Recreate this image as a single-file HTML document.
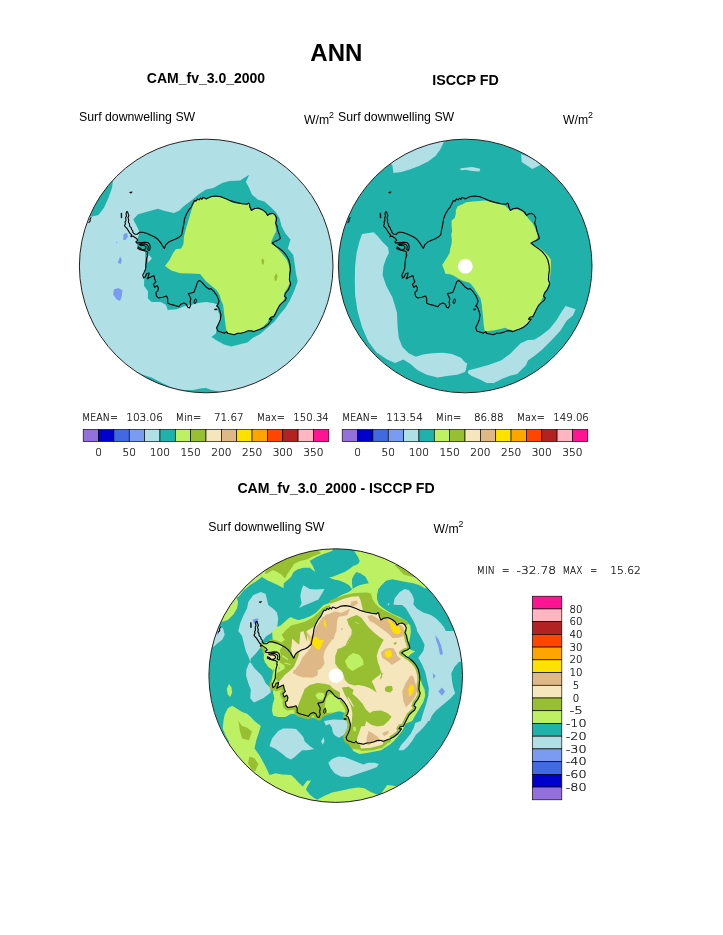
<!DOCTYPE html>
<html><head><meta charset="utf-8"><title>ANN Surf downwelling SW</title>
<style>
html,body{margin:0;padding:0;background:#fff;}
svg{display:block;}
text{font-family:"Liberation Sans",sans-serif;fill:#000;}
text.thin{font-family:"DejaVu Sans Light","DejaVu Sans","Liberation Sans",sans-serif;font-weight:200;fill:#000;stroke:#000;stroke-width:0.22px;}
</style></head><body>
<svg width="723" height="935" viewBox="0 0 723 935">
<rect width="723" height="935" fill="#fff"/>
<clipPath id="clip1"><circle cx="206.2" cy="266.0" r="126.8"/></clipPath><g clip-path="url(#clip1)"><circle cx="206.2" cy="266.0" r="126.8" fill="#B0E0E6"/>
<path d="M133.2,219.6 138.0,214.2 147.9,211.5 157.8,208.8 165.9,211.2 174.0,213.0 179.4,210.6 183.9,206.1 191.1,200.7 198.3,194.4 206.0,189.6 213.2,188.1 222.2,183.1 229.4,181.0 240.2,180.6 244.7,177.4 249.2,174.7 245.9,181.9 249.2,188.1 251.9,194.4 258.1,199.8 264.4,201.6 270.7,207.0 276.1,212.4 279.7,218.7 281.5,225.9 285.1,233.1 290.5,239.4 287.8,248.4 293.2,254.7 295.0,266.0 295.9,273.2 297.7,281.3 294.1,291.2 289.6,301.1 285.1,308.3 279.7,314.5 274.3,321.7 267.1,328.0 259.9,334.3 252.7,337.9 247.4,342.4 240.2,344.2 231.2,346.4 224.0,344.6 216.8,340.6 211.4,337.0 215.9,333.4 216.8,328.0 218.2,323.5 220.0,319.9 219.5,314.5 217.1,309.2 217.7,304.7 214.1,303.2 206.0,302.0 198.3,302.9 191.1,304.7 183.9,306.5 176.7,309.2 167.7,310.1 165.9,304.7 160.5,302.0 151.5,302.0 147.9,298.4 147.9,291.2 144.0,285.8 144.3,276.8 145.2,266.0 145.2,260.1 145.2,252.0 137.5,247.5 136.8,240.3 138.9,234.9 138.9,230.4 136.2,225.0Z" fill="#20B2AA" />
<path d="M147.6,253.2 151.9,258.6 147.9,262.8Z" fill="#B0E0E6" />
<path d="M206.0,199.8 211.4,197.1 218.6,196.8 225.8,198.9 233.0,202.9 242.0,204.3 248.8,204.0 251.0,210.6 255.4,208.8 261.7,209.4 268.0,215.1 273.4,213.7 275.2,216.9 275.2,224.1 276.1,231.3 273.4,236.7 271.1,242.1 275.2,245.7 281.5,252.9 286.9,260.1 289.1,266.0 289.6,269.6 289.1,276.8 289.6,283.1 287.8,287.6 284.2,293.0 285.1,296.6 283.3,301.1 279.7,305.6 277.0,310.1 273.4,315.4 268.9,318.1 268.0,321.7 263.5,326.2 258.1,329.8 252.7,331.6 247.4,331.6 242.0,332.9 237.5,333.4 233.0,334.3 228.5,334.3 226.7,331.6 225.8,327.1 224.9,319.9 224.0,312.7 223.1,304.7 221.3,301.1 219.5,294.8 216.8,290.3 211.4,285.8 206.0,281.3 200.1,274.1 191.1,273.6 180.3,273.2 171.3,270.5 165.0,266.0 169.5,260.1 173.1,252.9 175.8,249.3 181.2,248.4 183.5,243.9 183.9,236.7 185.7,229.5 188.4,220.5 191.1,211.5 192.9,205.2 194.7,201.6 200.1,198.9 206.0,198.0Z" fill="#BEF064" />
<path d="M112.9,181.0 112.0,188.1 108.4,198.0 103.9,207.9 98.5,215.1 92.2,216.4 83.2,216.4 94.0,181.0Z" fill="#20B2AA" />
<path d="M137.1,372.1 140.7,373.9 151.5,377.5 162.3,382.9 173.1,388.3 183.9,390.1 192.9,390.1 201.9,388.3 206.0,387.9 211.4,390.1 216.8,391.0 224.0,392.2 231.2,394.0 231.2,402.7 137.1,402.7Z" fill="#20B2AA" />
<path d="M123.6,234.0 127.2,233.1 127.8,236.7 125.4,240.3 123.1,239.4Z" fill="#7B9BF2" />
<path d="M120.1,256.5 121.9,260.1 120.6,264.0 117.7,262.8Z" fill="#7B9BF2" />
<path d="M115.9,241.7 117.4,242.4 116.5,243.3Z" fill="#7B9BF2" />
<path d="M113.8,289.4 118.3,287.9 122.4,290.3 121.9,295.7 120.1,301.1 116.5,299.3 113.2,294.8Z" fill="#7B9BF2" />
<path d="M261.4,260.1 262.8,257.9 264.3,261.0 263.5,264.7 261.9,264.0Z" fill="#98BE32" />
<path d="M274.3,276.8 276.1,273.2 277.6,275.9 276.7,280.4 274.9,281.1Z" fill="#98BE32" /><g transform="translate(206.2,266.0)" fill="none" stroke="#000" stroke-width="1.10" stroke-linejoin="round"><path d="M-0.2,-67.1 2.3,-68.2 5.4,-69.5 9.8,-70.0 14.7,-69.2 19.7,-67.3 24.7,-65.1 29.7,-63.6 35.9,-62.3 40.9,-61.7 42.1,-63.0 43.1,-62.3 43.6,-59.2 45.2,-55.5 47.7,-57.3 52.1,-58.0 56.4,-56.1 59.6,-53.6 61.4,-50.5 63.3,-52.1 66.4,-52.6 68.9,-51.1 70.5,-48.0 70.1,-44.9 69.3,-43.0 70.8,-39.9 71.8,-34.9 73.2,-31.2 74.2,-27.5 71.4,-25.6 68.3,-24.4 65.8,-22.7 67.6,-21.5 70.1,-19.4 73.2,-17.5 77.0,-14.4 80.1,-10.7 80.7,-9.8 82.6,-6.0 83.8,-1.0 84.2,3.9 83.5,8.9 83.2,13.9 84.5,17.6 83.8,20.1 82.0,23.9 79.5,27.0 78.2,30.1 80.1,31.9 78.9,34.4 75.8,36.9 73.3,39.4 71.4,43.1 69.5,46.9 67.7,50.6 64.6,51.2 63.3,53.1 65.8,53.1 64.6,55.0 62.1,58.1 58.3,61.2 54.6,63.1 50.9,64.3 47.7,65.6 45.3,64.9 42.1,64.7 38.4,66.2 34.7,67.2 30.9,67.4 27.8,68.7 24.7,68.0 21.6,67.4 20.4,65.6 18.5,67.2 15.4,66.2 11.6,64.9 10.4,61.8 12.3,58.1 14.1,53.7 14.8,48.8 13.5,44.4 12.3,41.3 10.4,40.0 11.6,38.8 12.9,35.1 11.0,30.1 7.9,25.7 4.8,22.6 3.2,23.2 -0.5,20.7 -4.2,16.4 -6.7,14.5 -8.6,15.8 -10.4,21.4 -12.3,26.3 -14.8,27.0 -17.9,27.6 -15.4,32.6 -16.1,36.3 -15.4,38.8 -16.7,41.9 -18.5,41.3 -19.8,38.2 -22.3,36.9 -25.4,38.2 -27.3,40.7 -31.6,39.4 -36.0,38.2 -38.5,36.9 -38.5,32.6 -39.7,30.1 -43.4,31.3 -47.8,31.9 -49.7,30.1 -50.3,26.3 -48.4,25.1 -47.8,22.0 -49.0,19.5 -51.5,21.4 -52.8,18.3 -50.3,15.8 -51.5,13.3 -52.2,9.5 -54.0,10.2 -56.5,11.4 -59.0,12.7 -57.8,10.2 -57.1,7.0 -59.6,7.7 -60.9,10.8 -62.7,12.0 -63.4,8.9 -62.1,6.4 -60.5,2.7 -60.2,-2.3 -59.6,-7.3 -58.4,-11.0 -59.1,-11.3 -58.5,-13.8 -60.3,-15.0 -63.4,-15.6 -65.9,-16.3 -68.4,-17.5 -68.0,-19.0 -66.5,-18.1 -64.7,-16.5 -62.2,-16.3 -60.3,-17.5 -60.3,-19.4 -62.2,-20.6 -65.3,-20.6 -67.2,-21.5 -65.3,-21.9 -61.6,-22.2 -59.1,-21.2 -57.8,-19.4 -58.5,-16.3 -56.6,-15.6 -56.0,-18.8 -56.6,-21.9 -58.5,-23.5 -61.6,-23.7 -66.5,-23.1 -69.7,-23.1 -70.3,-24.4 -68.4,-25.6 -69.7,-27.5 -71.5,-28.7 -73.4,-30.0 -75.3,-29.3 -74.6,-31.2 -76.5,-33.1 -78.4,-36.2 -79.7,-38.1 -80.7,-38.9 -81.7,-40.5 -80.7,-42.2 -81.2,-43.9 -80.2,-45.5 -80.5,-48.4 -79.7,-50.1 -80.2,-52.1 -79.5,-54.4 -78.5,-53.9 -78.0,-52.1 -77.3,-50.4 -78.2,-48.4 -77.5,-46.1 -77.8,-43.7 -76.8,-42.2 -76.5,-39.7 -75.0,-38.4 -74.6,-36.4 -73.5,-35.4 -73.4,-33.7 -71.5,-31.8 -69.0,-31.8 -66.5,-33.7 -63.4,-33.7 -59.1,-32.5 -54.7,-30.6 -51.0,-28.7 -47.9,-26.2 -45.4,-23.1 -43.5,-20.0 -41.9,-17.5 -40.4,-21.2 -37.9,-23.7 -34.2,-25.6 -30.4,-26.9 -27.3,-28.7 -24.5,-31.2 -23.6,-36.2 -22.4,-41.8 -21.7,-46.8 -19.9,-51.7 -17.4,-56.1 -14.9,-59.2 -13.0,-63.0 -11.8,-65.4 -9.9,-65.1 -8.7,-67.1 -7.0,-66.1 -5.6,-67.9 -4.3,-66.7 -3.1,-68.6 -0.2,-67.6Z"/><path d="M-76.5,-73.8 -74.0,-74.2 -75.0,-72.8 -76.5,-73.3Z" fill="#000" stroke-width="0.5"/><path d="M-85.2,-53.0 -84.5,-53.0 -84.3,-48.0 -85.1,-48.0Z" fill="#000" stroke-width="0.5"/><path d="M-11.7,33.8 -10.2,32.8 -9.8,35.3 -11.1,37.8 -12.2,36.9Z" fill="none" stroke-width="0.9"/><path d="M8.2,43.1 10.5,42.8 10.5,44.0 8.5,44.0Z" fill="#000" stroke-width="0.5"/><path d="M-115.0,-48.8 L-116.2,-46.5 L-116.0,-45.0 L-117.6,-43.2"/></g></g><circle cx="206.2" cy="266.0" r="126.8" fill="none" stroke="#222" stroke-width="1"/>
<clipPath id="clip2"><circle cx="465.2" cy="266.0" r="126.8"/></clipPath><g clip-path="url(#clip2)"><circle cx="465.2" cy="266.0" r="126.8" fill="#20B2AA"/>
<path d="M388.9,161.2 446.5,136.0 442.9,144.1 440.2,149.5 435.7,155.8 428.5,161.2 419.5,165.7 410.5,169.3 401.5,172.0 393.4,172.9 392.5,165.7Z" fill="#B0E0E6" />
<path d="M521.1,154.0 544.1,163.0 532.4,168.9 521.6,162.1Z" fill="#B0E0E6" />
<path d="M460.0,168.4 465.0,167.8 472.2,167.1 480.3,168.7 479.4,171.6 472.2,171.1 465.0,169.8 460.9,170.2Z" fill="#B0E0E6" />
<path d="M362.0,234.0 373.7,232.2 377.3,235.8 382.6,242.1 388.0,247.5 388.9,252.9 386.2,258.3 383.5,266.0 382.6,275.0 386.2,285.8 392.5,297.5 397.0,312.7 397.6,327.1 398.8,337.9 402.4,346.9 408.7,353.2 415.9,356.8 423.1,354.5 432.1,353.2 442.9,352.7 451.9,354.1 460.9,357.7 465.0,362.2 467.2,363.6 465.9,369.4 465.0,372.1 457.3,374.8 446.5,376.0 437.5,377.5 426.7,374.8 417.7,370.3 410.5,364.0 403.3,359.5 395.2,363.1 387.1,359.5 376.4,352.3 368.3,341.5 362.0,327.1 357.5,311.0 355.1,294.8 354.8,280.4 355.1,266.0 356.6,252.9 359.3,242.1Z" fill="#B0E0E6" />
<path d="M468.6,370.3 475.8,368.5 488.4,364.9 501.0,360.4 510.0,354.1 520.7,343.3 527.9,340.1 534.2,339.7 540.5,336.1 549.5,328.9 556.7,319.9 562.1,311.0 565.7,305.9 575.6,309.2 572.9,315.4 566.6,320.8 560.3,330.7 551.3,340.6 542.3,349.6 533.3,356.8 527.9,360.4 526.1,364.9 517.1,373.9 510.0,375.7 502.8,378.4 493.8,382.9 486.6,382.9 479.4,379.3 471.3,375.7 467.7,373.0Z" fill="#B0E0E6" />
<path d="M465.0,202.4 472.5,201.4 479.9,200.9 484.9,200.6 489.9,201.8 497.4,203.7 504.8,205.5 509.8,209.9 517.3,209.3 522.3,211.8 526.0,215.5 529.7,219.9 532.8,223.6 534.7,227.3 536.6,232.3 537.8,237.3 534.7,241.0 531.6,242.9 534.7,246.0 539.7,247.9 544.7,252.2 548.4,256.0 550.9,259.7 550.9,265.9 550.3,275.0 550.3,274.9 549.7,277.4 549.4,283.0 547.8,286.7 545.9,289.9 544.1,292.3 543.4,296.1 542.2,298.6 540.3,302.9 537.2,307.3 534.7,312.3 532.2,316.6 529.1,321.6 524.8,326.0 519.8,328.4 513.6,330.9 509.8,329.7 504.9,327.8 502.4,328.4 494.9,330.3 488.7,330.9 484.7,330.9 483.7,324.7 483.1,317.2 482.4,311.0 481.8,304.8 480.6,298.6 477.5,293.6 473.7,287.4 470.0,283.0 466.0,281.8 462.2,280.5 459.7,279.3 456.6,277.4 453.5,275.5 449.8,274.3 445.4,273.7 444.2,269.9 442.9,266.8 442.3,264.3 442.8,264.0 444.7,260.9 447.2,257.2 449.7,252.8 450.3,248.5 451.6,243.5 451.9,239.8 451.2,234.8 452.2,231.1 451.6,226.1 451.6,220.5 454.7,218.0 455.7,214.3 455.9,209.9 457.8,206.2 460.9,204.9 465.0,203.0Z" fill="#BEF064" />
<circle cx="465.3" cy="266.2" r="7.4" fill="#fff"/><g transform="translate(465.2,266.0)" fill="none" stroke="#000" stroke-width="1.10" stroke-linejoin="round"><path d="M-0.2,-67.1 2.3,-68.2 5.4,-69.5 9.8,-70.0 14.7,-69.2 19.7,-67.3 24.7,-65.1 29.7,-63.6 35.9,-62.3 40.9,-61.7 42.1,-63.0 43.1,-62.3 43.6,-59.2 45.2,-55.5 47.7,-57.3 52.1,-58.0 56.4,-56.1 59.6,-53.6 61.4,-50.5 63.3,-52.1 66.4,-52.6 68.9,-51.1 70.5,-48.0 70.1,-44.9 69.3,-43.0 70.8,-39.9 71.8,-34.9 73.2,-31.2 74.2,-27.5 71.4,-25.6 68.3,-24.4 65.8,-22.7 67.6,-21.5 70.1,-19.4 73.2,-17.5 77.0,-14.4 80.1,-10.7 80.7,-9.8 82.6,-6.0 83.8,-1.0 84.2,3.9 83.5,8.9 83.2,13.9 84.5,17.6 83.8,20.1 82.0,23.9 79.5,27.0 78.2,30.1 80.1,31.9 78.9,34.4 75.8,36.9 73.3,39.4 71.4,43.1 69.5,46.9 67.7,50.6 64.6,51.2 63.3,53.1 65.8,53.1 64.6,55.0 62.1,58.1 58.3,61.2 54.6,63.1 50.9,64.3 47.7,65.6 45.3,64.9 42.1,64.7 38.4,66.2 34.7,67.2 30.9,67.4 27.8,68.7 24.7,68.0 21.6,67.4 20.4,65.6 18.5,67.2 15.4,66.2 11.6,64.9 10.4,61.8 12.3,58.1 14.1,53.7 14.8,48.8 13.5,44.4 12.3,41.3 10.4,40.0 11.6,38.8 12.9,35.1 11.0,30.1 7.9,25.7 4.8,22.6 3.2,23.2 -0.5,20.7 -4.2,16.4 -6.7,14.5 -8.6,15.8 -10.4,21.4 -12.3,26.3 -14.8,27.0 -17.9,27.6 -15.4,32.6 -16.1,36.3 -15.4,38.8 -16.7,41.9 -18.5,41.3 -19.8,38.2 -22.3,36.9 -25.4,38.2 -27.3,40.7 -31.6,39.4 -36.0,38.2 -38.5,36.9 -38.5,32.6 -39.7,30.1 -43.4,31.3 -47.8,31.9 -49.7,30.1 -50.3,26.3 -48.4,25.1 -47.8,22.0 -49.0,19.5 -51.5,21.4 -52.8,18.3 -50.3,15.8 -51.5,13.3 -52.2,9.5 -54.0,10.2 -56.5,11.4 -59.0,12.7 -57.8,10.2 -57.1,7.0 -59.6,7.7 -60.9,10.8 -62.7,12.0 -63.4,8.9 -62.1,6.4 -60.5,2.7 -60.2,-2.3 -59.6,-7.3 -58.4,-11.0 -59.1,-11.3 -58.5,-13.8 -60.3,-15.0 -63.4,-15.6 -65.9,-16.3 -68.4,-17.5 -68.0,-19.0 -66.5,-18.1 -64.7,-16.5 -62.2,-16.3 -60.3,-17.5 -60.3,-19.4 -62.2,-20.6 -65.3,-20.6 -67.2,-21.5 -65.3,-21.9 -61.6,-22.2 -59.1,-21.2 -57.8,-19.4 -58.5,-16.3 -56.6,-15.6 -56.0,-18.8 -56.6,-21.9 -58.5,-23.5 -61.6,-23.7 -66.5,-23.1 -69.7,-23.1 -70.3,-24.4 -68.4,-25.6 -69.7,-27.5 -71.5,-28.7 -73.4,-30.0 -75.3,-29.3 -74.6,-31.2 -76.5,-33.1 -78.4,-36.2 -79.7,-38.1 -80.7,-38.9 -81.7,-40.5 -80.7,-42.2 -81.2,-43.9 -80.2,-45.5 -80.5,-48.4 -79.7,-50.1 -80.2,-52.1 -79.5,-54.4 -78.5,-53.9 -78.0,-52.1 -77.3,-50.4 -78.2,-48.4 -77.5,-46.1 -77.8,-43.7 -76.8,-42.2 -76.5,-39.7 -75.0,-38.4 -74.6,-36.4 -73.5,-35.4 -73.4,-33.7 -71.5,-31.8 -69.0,-31.8 -66.5,-33.7 -63.4,-33.7 -59.1,-32.5 -54.7,-30.6 -51.0,-28.7 -47.9,-26.2 -45.4,-23.1 -43.5,-20.0 -41.9,-17.5 -40.4,-21.2 -37.9,-23.7 -34.2,-25.6 -30.4,-26.9 -27.3,-28.7 -24.5,-31.2 -23.6,-36.2 -22.4,-41.8 -21.7,-46.8 -19.9,-51.7 -17.4,-56.1 -14.9,-59.2 -13.0,-63.0 -11.8,-65.4 -9.9,-65.1 -8.7,-67.1 -7.0,-66.1 -5.6,-67.9 -4.3,-66.7 -3.1,-68.6 -0.2,-67.6Z"/><path d="M-76.5,-73.8 -74.0,-74.2 -75.0,-72.8 -76.5,-73.3Z" fill="#000" stroke-width="0.5"/><path d="M-85.2,-53.0 -84.5,-53.0 -84.3,-48.0 -85.1,-48.0Z" fill="#000" stroke-width="0.5"/><path d="M-11.7,33.8 -10.2,32.8 -9.8,35.3 -11.1,37.8 -12.2,36.9Z" fill="none" stroke-width="0.9"/><path d="M8.2,43.1 10.5,42.8 10.5,44.0 8.5,44.0Z" fill="#000" stroke-width="0.5"/><path d="M-115.0,-48.8 L-116.2,-46.5 L-116.0,-45.0 L-117.6,-43.2"/></g></g><circle cx="465.2" cy="266.0" r="126.8" fill="none" stroke="#222" stroke-width="1"/>
<clipPath id="clip3"><circle cx="335.7" cy="675.6" r="126.8"/></clipPath><g clip-path="url(#clip3)"><circle cx="335.7" cy="675.6" r="126.8" fill="#20B2AA"/>
<path d="M221.5,621.9 227.8,620.0 233.4,614.4 237.1,608.2 238.1,602.0 236.5,597.6 238.3,597.0 243.3,590.8 250.8,584.6 255.8,581.5 262.0,577.1 250.8,565.9 219.7,597.6 211.0,621.9Z" fill="#BEF064" />
<path d="M262.0,577.1 268.2,580.8 275.7,583.9 283.8,588.3 291.0,583.9 315.9,578.3 329.0,577.7 333.3,579.6 339.5,580.8 344.5,582.7 348.9,585.2 352.0,589.5 353.2,615.7 381.0,615.7 381.0,606.4 378.8,604.5 376.9,599.5 376.9,594.5 378.1,589.5 381.0,585.8 386.0,580.8 392.2,579.3 398.4,580.6 405.9,582.1 413.4,583.3 419.6,585.2 424.6,588.3 433.3,588.3 405.9,553.4 381.0,541.0 335.8,537.3 291.0,541.0 275.7,547.2 250.8,565.9Z" fill="#BEF064" />
<path d="M352.0,589.5 355.7,587.1 359.5,585.2 364.4,583.9 368.8,583.3 373.2,587.1 378.1,589.5 376.9,594.5 376.9,599.5 378.8,604.5 381.0,606.4 386.0,610.1 392.2,613.8 399.7,616.9 405.9,620.7 410.3,625.6 410.9,631.0 410.3,636.0 409.0,642.2 407.8,647.2 410.9,649.7 415.2,651.5 410.9,654.0 407.8,657.1 410.9,660.3 414.6,664.0 418.3,669.6 420.2,678.3 422.1,684.5 424.6,689.5 425.2,695.7 423.3,702.0 419.6,708.2 415.9,714.4 412.1,721.0 405.9,723.5 402.2,731.0 397.2,737.2 393.4,741.5 389.7,744.7 384.7,747.8 381.0,750.3 368.2,752.7 359.5,754.0 353.2,750.9 350.8,745.9 349.5,739.7 347.6,739.7 349.5,731.0 349.5,721.0 348.3,716.9 345.8,713.2 338.3,710.7 332.1,713.2 323.4,715.6 315.9,718.1 307.2,716.9 298.5,714.4 291.0,713.8 285.6,716.9 278.2,716.9 273.2,715.6 272.0,710.7 272.6,704.4 274.4,698.2 273.2,693.2 272.6,688.3 273.2,680.8 274.4,674.6 272.0,669.6 268.2,667.1 265.7,662.1 264.5,655.9 265.7,650.9 268.8,647.8 272.0,645.9 272.6,638.5 272.0,631.0 274.4,628.1 280.7,625.6 288.1,618.8 291.0,616.9 293.5,618.2 298.5,620.0 304.7,618.2 310.9,615.7 315.9,612.6 319.6,608.8 323.4,605.1 328.3,603.2 333.3,600.1 338.3,596.4 343.3,593.9 348.3,592.0Z" fill="#BEF064" />
<path d="M223.4,721.0 224.7,714.4 227.8,708.2 232.1,705.7 237.1,708.8 242.1,711.9 247.1,713.8 250.8,716.9 254.5,721.0 260.8,726.0 258.9,732.2 256.4,739.7 254.5,748.4 258.9,754.6 263.2,762.1 267.0,769.5 269.5,775.1 275.7,773.3 281.9,774.5 291.0,775.1 294.7,778.3 298.5,782.6 302.8,786.4 307.2,780.8 310.9,780.5 307.8,785.7 305.9,789.5 309.7,794.4 313.4,797.6 317.1,799.7 324.6,795.7 332.1,792.6 340.8,790.7 349.5,788.8 358.2,787.6 364.4,788.2 370.7,792.0 376.9,794.4 381.0,793.8 387.2,785.1 392.2,785.5 397.8,787.0 393.4,805.6 340.8,820.6 291.0,813.1 250.8,798.2 225.9,758.3 229.0,741.5 225.3,734.7 222.8,728.5 223.4,721.0Z" fill="#BEF064" />
<path d="M229.0,683.9 231.5,687.6 232.1,692.6 230.3,697.0 227.8,694.5 226.8,688.9Z" fill="#BEF064" />
<path d="M291.0,577.1 293.5,572.1 297.2,569.6 303.4,567.8 309.7,567.8 315.3,572.1 312.8,565.9 309.7,560.9 315.9,557.2 323.4,554.1 332.1,551.0 334.6,546.0 354.5,546.0 354.5,551.6 358.2,557.2 359.7,560.9 358.2,564.0 353.2,565.9 349.5,569.0 344.5,572.1 338.3,574.6 333.3,576.5 329.0,577.7 333.3,579.6 339.5,580.8 344.5,582.7 348.9,585.2 352.0,589.5 348.3,592.0 343.3,593.9 338.3,596.4 333.3,600.1 328.3,603.2 323.4,605.1 319.6,608.8 315.9,612.6 310.9,615.7 304.7,618.2 298.5,620.0 293.5,618.2 291.0,616.9 283.5,615.7 283.5,588.3 283.8,583.3Z" fill="#20B2AA" />
<path d="M356.4,571.9 360.7,573.4 365.7,577.1 368.8,583.3 364.4,583.9 359.5,585.2 355.7,587.1 352.6,588.9 352.0,583.3 352.0,579.0 353.9,575.2Z" fill="#20B2AA" />
<path d="M248.3,602.0 253.3,595.1 260.8,592.0 265.7,593.9 267.0,599.5 268.2,605.1 273.2,608.8 276.9,612.6 278.2,618.8 277.2,626.9 270.7,633.5 266.1,636.2 262.6,641.0 260.8,647.2 255.8,653.4 250.8,658.4 250.2,662.1 254.5,668.3 262.0,675.8 265.7,683.3 270.7,688.3 270.7,692.6 263.2,698.2 253.9,702.6 250.2,698.2 250.8,689.5 248.3,683.3 246.1,675.8 246.4,669.6 248.9,663.4 250.2,662.1 248.9,657.8 245.8,650.9 243.9,643.4 242.1,636.0 238.3,631.0 240.2,623.2 243.3,615.7 247.1,608.2Z" fill="#B0E0E6" />
<path d="M211.0,628.0 217.0,626.5 223.0,628.0 224.7,634.7 222.2,639.7 217.2,643.4 214.0,646.5 205.0,650.0 200.0,630.0Z" fill="#B0E0E6" />
<path d="M303.4,585.2 309.7,588.9 315.9,589.5 324.6,588.9 322.1,593.3 318.4,599.5 309.7,603.2 303.4,605.7 299.1,608.0 301.6,603.2 300.3,595.8 301.6,589.5Z" fill="#B0E0E6" />
<path d="M393.4,604.5 394.7,598.3 399.7,592.0 404.7,588.9 409.0,590.2 412.1,594.5 414.0,599.5 413.4,604.5 417.1,608.8 423.3,612.6 430.8,615.1 435.8,618.2 440.8,623.2 444.5,628.1 445.7,631.0 455.7,631.0 458.2,638.5 460.7,648.4 468.1,655.9 468.1,659.6 458.8,662.1 454.4,667.1 451.3,673.3 452.0,680.8 453.2,687.0 455.1,693.2 450.7,698.2 443.2,704.4 435.8,710.7 432.0,715.6 429.5,721.0 428.3,721.0 424.6,726.0 420.8,730.3 415.9,734.7 412.1,740.9 407.8,746.5 403.4,750.3 398.4,750.3 400.9,745.3 405.9,739.7 410.9,733.4 414.0,727.2 415.2,722.9 420.8,721.0 423.9,710.7 426.4,703.2 428.3,695.7 428.9,688.3 427.1,680.8 425.2,672.1 422.1,664.6 418.3,657.8 423.3,650.9 424.6,644.7 420.8,637.2 417.1,631.0 416.5,628.1 414.0,621.9 409.6,614.4 405.9,608.2 402.2,605.1 396.6,605.1Z" fill="#B0E0E6" />
<path d="M387.5,603.9 389.5,603.0 388.7,605.7Z" fill="#B0E0E6" />
<path d="M269.5,745.9 272.0,738.4 278.2,731.0 283.2,728.5 291.0,728.5 296.0,729.1 299.7,732.8 303.4,737.2 304.7,741.5 309.7,745.9 314.0,749.0 307.2,750.3 302.2,750.3 298.5,753.4 294.7,757.1 291.0,759.6 286.9,757.7 281.9,753.4 275.7,749.0Z" fill="#B0E0E6" />
<path d="M324.0,721.0 325.9,725.4 329.6,724.1 332.1,727.8 332.7,732.2 334.6,735.3 338.9,737.8 343.3,735.3 347.0,731.0 348.9,726.0 348.5,721.0 344.5,720.0 333.3,719.6Z" fill="#B0E0E6" />
<path d="M323.4,737.2 324.6,740.9 322.7,744.7 321.2,741.5Z" fill="#B0E0E6" />
<path d="M328.3,762.7 332.1,759.0 338.3,756.5 344.5,757.1 350.8,759.6 357.0,762.1 363.2,764.6 368.2,762.7 374.4,762.7 378.8,763.9 376.9,767.1 370.7,769.5 363.2,772.0 355.7,774.5 348.3,777.0 340.8,776.4 334.6,773.3 330.8,768.3Z" fill="#B0E0E6" />
<path d="M252.7,619.4 258.3,618.2 257.6,623.8 253.9,623.8Z" fill="#7B9BF2" />
<path d="M435.3,635.0 438.5,639.2 441.2,645.7 443.0,654.2 440.0,654.7 438.5,647.2 436.0,639.7Z" fill="#7B9BF2" />
<path d="M432.7,673.3 435.8,675.8 433.3,678.9Z" fill="#7B9BF2" />
<path d="M442.0,687.6 445.1,691.4 442.0,695.7 438.3,691.4Z" fill="#7B9BF2" />
<path d="M216.8,632.3 218.9,630.5 218.6,634.1 216.8,635.0Z" fill="#7B9BF2" />
<path d="M265.3,573.9 268.0,573.0 272.5,570.3 276.1,571.2 281.5,574.8 285.1,578.4 286.9,574.8 290.5,569.4 294.1,564.0 299.5,561.3 306.7,559.5 313.9,555.9 321.1,553.2 313.9,546.0 265.3,565.8Z" fill="#98BE32" />
<path d="M394.7,565.3 399.7,570.3 403.4,574.4 410.9,576.5 418.3,578.3 400.9,563.4Z" fill="#98BE32" />
<path d="M238.3,721.0 242.1,726.0 247.1,727.8 252.0,731.6 248.9,740.3 242.1,738.4 240.2,732.2Z" fill="#98BE32" />
<path d="M249.5,756.5 254.5,758.3 258.3,763.9 255.1,771.4 251.4,768.9 248.1,763.3Z" fill="#98BE32" />
<path transform="translate(335.7,675.6)" d="M54.6,63.1 50.9,64.3 47.7,65.6 45.3,64.9 42.1,64.7 38.4,66.2 34.7,67.2 30.9,67.4 27.8,68.7 24.7,68.0 21.6,67.4 20.4,65.6 18.5,67.2 15.4,66.2 11.6,64.9 10.4,61.8 12.3,58.1 14.1,53.7 14.8,48.8 13.5,44.4 12.3,41.3 10.4,40.0 11.6,38.8 12.9,35.1 11.0,30.1 7.9,25.7 4.8,22.6 3.2,23.2 -0.5,20.7 -4.2,16.4 -6.7,14.5 -8.6,15.8 -10.4,21.4 -12.3,26.3 -14.8,27.0 -17.9,27.6 -15.4,32.6 -16.1,36.3 -15.4,38.8 -16.7,41.9 -18.5,41.3 -19.8,38.2 -22.3,36.9 -25.4,38.2 -27.3,40.7 -31.6,39.4 -36.0,38.2 -38.5,36.9 -38.5,32.6 -39.7,30.1 -43.4,31.3 -47.8,31.9 -49.7,30.1 -50.3,26.3 -48.4,25.1 -47.8,22.0 -49.0,19.5 -51.5,21.4 -52.8,18.3 -50.3,15.8 -51.5,13.3 -52.2,9.5 -54.0,10.2 -56.5,11.4 -59.0,12.7 -57.8,10.2 -57.1,7.0 -59.6,7.7 -60.9,10.8 -62.7,12.0 -63.4,8.9 -62.1,6.4 -60.5,2.7 -60.2,-2.3 -59.6,-7.3 -58.4,-11.0 -59.1,-11.3 -58.5,-13.8 -60.3,-15.0 -63.4,-15.6 -65.9,-16.3 -68.4,-17.5 -68.0,-19.0 -66.5,-18.1 -64.7,-16.5 -62.2,-16.3 -60.3,-17.5 -60.3,-19.4 -62.2,-20.6 -65.3,-20.6 -67.2,-21.5 -65.3,-21.9 -61.6,-22.2 -59.1,-21.2 -57.8,-19.4 -58.5,-16.3 -56.6,-15.6 -56.0,-18.8 -56.6,-21.9 -58.5,-23.5 -61.6,-23.7 -66.5,-23.1 -69.7,-23.1 -70.3,-24.4 -68.4,-25.6 -69.7,-27.5 -71.5,-28.7 -73.4,-30.0 -75.3,-29.3" fill="none" stroke="#98BE32" stroke-width="6" stroke-linejoin="round"/>
<path transform="translate(335.7,675.6)" d="M-66.5,-33.7 -63.4,-33.7 -59.1,-32.5 -54.7,-30.6 -51.0,-28.7 -47.9,-26.2 -45.4,-23.1 -43.5,-20.0 -41.9,-17.5 -40.4,-21.2 -37.9,-23.7 -34.2,-25.6 -30.4,-26.9 -27.3,-28.7 -24.5,-31.2 -23.6,-36.2 -22.4,-41.8 -21.7,-46.8 -19.9,-51.7 -17.4,-56.1 -14.9,-59.2 -13.0,-63.0 -11.8,-65.4 -9.9,-65.1 -8.7,-67.1 -7.0,-66.1 -5.6,-67.9 -4.3,-66.7 -3.1,-68.6 -0.2,-67.6 -0.2,-67.1 2.3,-68.2 5.4,-69.5 9.8,-70.0 14.7,-69.2 19.7,-67.3 24.7,-65.1 29.7,-63.6 35.9,-62.3 40.9,-61.7 42.1,-63.0 43.1,-62.3 43.6,-59.2 45.2,-55.5 47.7,-57.3 52.1,-58.0 56.4,-56.1 59.6,-53.6" fill="none" stroke="#98BE32" stroke-width="5" stroke-linejoin="round"/>
<path d="M330.0,600.6 337.5,597.5 344.9,595.0 354.9,593.1 367.3,592.5 371.1,593.7 372.3,598.7 375.4,603.7 379.8,608.0 386.0,611.2 393.5,614.9 399.7,618.0 404.7,619.9 408.4,623.6 405.9,626.1 403.4,623.0 399.7,622.6 397.2,624.9 393.5,621.1 388.5,618.0 383.5,618.0 379.8,619.9 377.9,614.3 376.7,612.4 371.1,613.7 364.9,612.4 346.2,606.2 330.0,609.9Z" fill="#98BE32" />
<path d="M281.7,634.8 286.1,629.9 291.1,625.5 298.5,623.6 304.8,621.8 312.2,618.0 319.7,611.2 324.7,607.4 329.7,605.6 340.0,600.6 340.0,607.4 334.6,606.8 324.7,609.9 319.7,618.0 314.7,627.4 312.2,637.3 309.8,643.5 306.0,648.5 299.8,651.0 296.1,653.5 292.9,657.2 289.8,651.0 284.9,645.4 281.7,642.3 284.9,639.8 283.0,637.3Z" fill="#98BE32" />
<path transform="translate(335.7,675.6)" d="M-0.2,-67.1 2.3,-68.2 5.4,-69.5 9.8,-70.0 14.7,-69.2 19.7,-67.3 24.7,-65.1 29.7,-63.6 35.9,-62.3 40.9,-61.7 42.1,-63.0 43.1,-62.3 43.6,-59.2 45.2,-55.5 47.7,-57.3 52.1,-58.0 56.4,-56.1 59.6,-53.6 61.4,-50.5 63.3,-52.1 66.4,-52.6 68.9,-51.1 70.5,-48.0 70.1,-44.9 69.3,-43.0 70.8,-39.9 71.8,-34.9 73.2,-31.2 74.2,-27.5 71.4,-25.6 68.3,-24.4 65.8,-22.7 67.6,-21.5 70.1,-19.4 73.2,-17.5 77.0,-14.4 80.1,-10.7 80.7,-9.8 82.6,-6.0 83.8,-1.0 84.2,3.9 83.5,8.9 83.2,13.9 84.5,17.6 83.8,20.1 82.0,23.9 79.5,27.0 78.2,30.1 80.1,31.9 78.9,34.4 75.8,36.9 73.3,39.4 71.4,43.1 69.5,46.9 67.7,50.6 64.6,51.2 63.3,53.1 65.8,53.1 64.6,55.0 62.1,58.1 58.3,61.2 54.6,63.1 50.9,64.3 47.7,65.6 45.3,64.9 42.1,64.7 38.4,66.2 34.7,67.2 30.9,67.4 27.8,68.7 24.7,68.0 21.6,67.4 20.4,65.6 18.5,67.2 15.4,66.2 11.6,64.9 10.4,61.8 12.3,58.1 14.1,53.7 14.8,48.8 13.5,44.4 12.3,41.3 10.4,40.0 11.6,38.8 12.9,35.1 11.0,30.1 7.9,25.7 4.8,22.6 3.2,23.2 -0.5,20.7 -4.2,16.4 -6.7,14.5 -8.6,15.8 -10.4,21.4 -12.3,26.3 -14.8,27.0 -17.9,27.6 -15.4,32.6 -16.1,36.3 -15.4,38.8 -16.7,41.9 -18.5,41.3 -19.8,38.2 -22.3,36.9 -25.4,38.2 -27.3,40.7 -31.6,39.4 -36.0,38.2 -38.5,36.9 -38.5,32.6 -39.7,30.1 -43.4,31.3 -47.8,31.9 -49.7,30.1 -50.3,26.3 -48.4,25.1 -47.8,22.0 -49.0,19.5 -51.5,21.4 -52.8,18.3 -50.3,15.8 -51.5,13.3 -52.2,9.5 -54.0,10.2 -56.5,11.4 -59.0,12.7 -57.8,10.2 -57.1,7.0 -59.6,7.7 -60.9,10.8 -62.7,12.0 -63.4,8.9 -62.1,6.4 -60.5,2.7 -60.2,-2.3 -59.6,-7.3 -58.4,-11.0 -59.1,-11.3 -58.5,-13.8 -60.3,-15.0 -63.4,-15.6 -65.9,-16.3 -68.4,-17.5 -68.0,-19.0 -66.5,-18.1 -64.7,-16.5 -62.2,-16.3 -60.3,-17.5 -60.3,-19.4 -62.2,-20.6 -65.3,-20.6 -67.2,-21.5 -65.3,-21.9 -61.6,-22.2 -59.1,-21.2 -57.8,-19.4 -58.5,-16.3 -56.6,-15.6 -56.0,-18.8 -56.6,-21.9 -58.5,-23.5 -61.6,-23.7 -66.5,-23.1 -69.7,-23.1 -70.3,-24.4 -68.4,-25.6 -69.7,-27.5 -71.5,-28.7 -73.4,-30.0 -75.3,-29.3 -66.5,-33.7 -63.4,-33.7 -59.1,-32.5 -54.7,-30.6 -51.0,-28.7 -47.9,-26.2 -45.4,-23.1 -43.5,-20.0 -41.9,-17.5 -40.4,-21.2 -37.9,-23.7 -34.2,-25.6 -30.4,-26.9 -27.3,-28.7 -24.5,-31.2 -23.6,-36.2 -22.4,-41.8 -21.7,-46.8 -19.9,-51.7 -17.4,-56.1 -14.9,-59.2 -13.0,-63.0 -11.8,-65.4 -9.9,-65.1 -8.7,-67.1 -7.0,-66.1 -5.6,-67.9 -4.3,-66.7 -3.1,-68.6 -0.2,-67.6Z" fill="#F5E6BE"/>
<clipPath id="cont3"><path transform="translate(335.7,675.6)" d="M-0.2,-67.1 2.3,-68.2 5.4,-69.5 9.8,-70.0 14.7,-69.2 19.7,-67.3 24.7,-65.1 29.7,-63.6 35.9,-62.3 40.9,-61.7 42.1,-63.0 43.1,-62.3 43.6,-59.2 45.2,-55.5 47.7,-57.3 52.1,-58.0 56.4,-56.1 59.6,-53.6 61.4,-50.5 63.3,-52.1 66.4,-52.6 68.9,-51.1 70.5,-48.0 70.1,-44.9 69.3,-43.0 70.8,-39.9 71.8,-34.9 73.2,-31.2 74.2,-27.5 71.4,-25.6 68.3,-24.4 65.8,-22.7 67.6,-21.5 70.1,-19.4 73.2,-17.5 77.0,-14.4 80.1,-10.7 80.7,-9.8 82.6,-6.0 83.8,-1.0 84.2,3.9 83.5,8.9 83.2,13.9 84.5,17.6 83.8,20.1 82.0,23.9 79.5,27.0 78.2,30.1 80.1,31.9 78.9,34.4 75.8,36.9 73.3,39.4 71.4,43.1 69.5,46.9 67.7,50.6 64.6,51.2 63.3,53.1 65.8,53.1 64.6,55.0 62.1,58.1 58.3,61.2 54.6,63.1 50.9,64.3 47.7,65.6 45.3,64.9 42.1,64.7 38.4,66.2 34.7,67.2 30.9,67.4 27.8,68.7 24.7,68.0 21.6,67.4 20.4,65.6 18.5,67.2 15.4,66.2 11.6,64.9 10.4,61.8 12.3,58.1 14.1,53.7 14.8,48.8 13.5,44.4 12.3,41.3 10.4,40.0 11.6,38.8 12.9,35.1 11.0,30.1 7.9,25.7 4.8,22.6 3.2,23.2 -0.5,20.7 -4.2,16.4 -6.7,14.5 -8.6,15.8 -10.4,21.4 -12.3,26.3 -14.8,27.0 -17.9,27.6 -15.4,32.6 -16.1,36.3 -15.4,38.8 -16.7,41.9 -18.5,41.3 -19.8,38.2 -22.3,36.9 -25.4,38.2 -27.3,40.7 -31.6,39.4 -36.0,38.2 -38.5,36.9 -38.5,32.6 -39.7,30.1 -43.4,31.3 -47.8,31.9 -49.7,30.1 -50.3,26.3 -48.4,25.1 -47.8,22.0 -49.0,19.5 -51.5,21.4 -52.8,18.3 -50.3,15.8 -51.5,13.3 -52.2,9.5 -54.0,10.2 -56.5,11.4 -59.0,12.7 -57.8,10.2 -57.1,7.0 -59.6,7.7 -60.9,10.8 -62.7,12.0 -63.4,8.9 -62.1,6.4 -60.5,2.7 -60.2,-2.3 -59.6,-7.3 -58.4,-11.0 -59.1,-11.3 -58.5,-13.8 -60.3,-15.0 -63.4,-15.6 -65.9,-16.3 -68.4,-17.5 -68.0,-19.0 -66.5,-18.1 -64.7,-16.5 -62.2,-16.3 -60.3,-17.5 -60.3,-19.4 -62.2,-20.6 -65.3,-20.6 -67.2,-21.5 -65.3,-21.9 -61.6,-22.2 -59.1,-21.2 -57.8,-19.4 -58.5,-16.3 -56.6,-15.6 -56.0,-18.8 -56.6,-21.9 -58.5,-23.5 -61.6,-23.7 -66.5,-23.1 -69.7,-23.1 -70.3,-24.4 -68.4,-25.6 -69.7,-27.5 -71.5,-28.7 -73.4,-30.0 -75.3,-29.3 -66.5,-33.7 -63.4,-33.7 -59.1,-32.5 -54.7,-30.6 -51.0,-28.7 -47.9,-26.2 -45.4,-23.1 -43.5,-20.0 -41.9,-17.5 -40.4,-21.2 -37.9,-23.7 -34.2,-25.6 -30.4,-26.9 -27.3,-28.7 -24.5,-31.2 -23.6,-36.2 -22.4,-41.8 -21.7,-46.8 -19.9,-51.7 -17.4,-56.1 -14.9,-59.2 -13.0,-63.0 -11.8,-65.4 -9.9,-65.1 -8.7,-67.1 -7.0,-66.1 -5.6,-67.9 -4.3,-66.7 -3.1,-68.6 -0.2,-67.6Z"/></clipPath>
<g clip-path="url(#cont3)"><path transform="translate(335.7,675.6)" d="M70.1,-44.9 69.3,-43.0 70.8,-39.9 71.8,-34.9 73.2,-31.2 74.2,-27.5 71.4,-25.6 68.3,-24.4 65.8,-22.7 67.6,-21.5 70.1,-19.4 73.2,-17.5 77.0,-14.4 80.1,-10.7 80.7,-9.8 82.6,-6.0 83.8,-1.0 84.2,3.9 83.5,8.9 83.2,13.9 84.5,17.6 83.8,20.1 82.0,23.9 79.5,27.0 78.2,30.1 80.1,31.9 78.9,34.4 75.8,36.9 73.3,39.4 71.4,43.1 69.5,46.9 67.7,50.6 64.6,51.2 63.3,53.1 65.8,53.1 64.6,55.0 62.1,58.1 58.3,61.2 54.6,63.1" fill="none" stroke="#98BE32" stroke-width="5" stroke-linejoin="round"/></g>
<path d="M330.0,603.7 336.2,601.8 343.7,598.7 351.2,596.8 358.6,596.2 360.5,600.0 361.7,604.9 363.0,610.5 358.6,610.5 346.2,606.2 330.0,609.9Z" fill="#F5E6BE" />
<path d="M351.2,601.8 356.8,600.6 358.0,603.1 353.7,606.8 350.5,605.6Z" fill="#DEB887" />
<path d="M292.9,657.2 291.1,649.8 292.3,638.6 296.1,642.3 299.2,644.8 300.4,632.3 303.5,631.1 305.4,637.3 307.3,642.3 306.6,631.1 311.0,628.6 314.7,626.1 319.7,618.0 314.7,627.4 312.2,637.3 309.8,643.5 306.0,648.5 299.8,651.0 296.1,653.5Z" fill="#F5E6BE" />
<path d="M260.0,643.3 262.5,645.8 264.1,643.3 269.1,641.6 276.6,642.9 283.2,645.4 287.4,649.1 290.7,653.3 293.2,657.8 295.7,653.3 299.8,650.8 298.2,656.6 295.7,662.4 294.0,666.5 289.9,670.7 284.9,674.8 280.7,679.8 278.7,682.3 277.4,682.3 275.7,684.8 272.8,687.3 272.8,684.0 271.6,681.5 272.8,674.8 274.5,669.9 271.6,668.2 268.3,666.5 265.0,662.4 263.7,658.2 264.1,654.1 265.8,651.6 269.1,650.4 265.4,650.4 265.8,648.3Z" fill="#BEF064" />
<path d="M279.9,649.9 283.2,645.4 287.4,649.1 290.7,653.3 293.2,657.8 295.7,653.3 299.8,650.8 298.2,656.6 295.7,662.4 294.0,666.5 289.9,670.7 284.9,674.8 280.7,679.8 278.7,682.3 277.4,681.5 275.7,678.2 276.6,671.5 282.4,668.2 284.9,665.7 279.9,662.4 279.1,659.9 280.7,655.7Z" fill="#98BE32" />
<path d="M282.4,654.9 288.2,659.1 287.8,659.9 282.0,656.7Z" fill="#BEF064" />
<path d="M284.9,662.4 290.7,664.0 290.3,664.9 284.5,663.4Z" fill="#BEF064" />
<path d="M276.6,662.4 284.0,665.7 284.9,668.2 279.9,671.5 276.2,673.2Z" fill="#BEF064" />
<path d="M267.4,655.7 270.8,652.8 274.9,652.8 277.0,655.7 274.9,658.7 271.6,659.9 268.7,658.2Z" fill="#F5E6BE" />
<path d="M278.2,667.4 279.9,667.8 279.5,668.9Z" fill="#20B2AA" />
<path d="M304.8,688.7 309.8,684.9 317.2,683.1 324.7,683.7 329.7,684.9 333.4,688.7 340.0,692.4 340.0,711.7 337.1,711.1 330.9,713.6 324.7,716.1 319.7,718.3 317.8,717.3 316.0,712.9 312.2,713.6 311.0,717.3 307.3,716.1 302.3,714.2 297.3,712.9 296.7,708.6 297.9,706.1 299.8,701.1 302.3,694.9Z" fill="#98BE32" />
<path d="M315.4,694.9 318.5,692.4 323.4,693.0 324.7,696.1 322.2,699.9 317.8,699.3Z" fill="#BEF064" />
<path d="M325.9,698.6 329.7,693.7 335.9,696.1 340.0,699.9 340.0,711.1 334.6,712.3 327.2,712.9 324.7,706.1Z" fill="#BEF064" />
<path d="M346.8,739.7 348.7,744.7 351.2,748.4 359.9,749.7 361.1,750.9 372.3,750.3 382.3,747.8 387.3,743.4 387.3,740.3 383.5,742.2 381.0,741.0 377.3,741.6 372.3,742.8 368.6,744.7 364.9,743.4 361.1,744.1 358.0,743.4 356.8,741.0 355.5,742.2 351.8,741.6 348.0,741.0Z" fill="#98BE32" />
<path d="M358.0,743.4 359.9,744.7 361.1,748.4 371.1,747.8 382.3,744.7 383.5,742.2 381.0,741.0 377.3,741.6 372.3,742.8 368.6,744.7 364.9,743.4 361.1,744.1Z" fill="#F5E6BE" />
<path d="M322.2,617.4 332.2,612.4 337.1,619.9 336.4,631.1 333.3,638.5 328.3,644.7 324.6,650.9 323.4,657.1 324.6,663.4 321.5,668.3 317.1,670.8 317.8,675.2 312.2,677.7 304.7,677.1 298.5,674.6 293.5,672.7 296.0,668.3 299.7,663.4 302.2,657.8 307.2,652.2 310.9,647.2 309.7,641.0 307.2,636.0 305.9,631.0 311.0,637.3 316.0,627.3Z" fill="#DEB887" />
<path d="M330.0,613.7 335.0,611.2 341.2,613.0 346.2,610.5 349.9,608.7 347.4,614.9 343.7,616.1 338.7,616.8 336.2,622.4 335.0,631.1 333.7,639.8 330.0,634.8 325.0,614.9Z" fill="#DEB887" />
<path d="M340.6,628.0 343.1,628.6 341.8,630.5Z" fill="#DEB887" />
<path d="M367.3,616.1 372.3,614.9 379.8,619.9 384.8,618.0 388.5,618.6 394.7,622.4 399.7,624.2 403.4,627.3 404.1,632.3 402.2,636.7 397.2,637.9 392.2,637.9 389.8,634.8 384.8,631.1 379.8,627.3 374.8,623.6 369.8,621.1Z" fill="#DEB887" />
<path d="M381.0,653.5 384.8,649.8 389.8,647.9 393.5,648.5 396.0,652.2 397.2,656.0 401.0,659.1 397.2,661.6 392.2,664.7 387.3,661.0 382.3,657.8Z" fill="#DEB887" />
<path d="M402.2,691.2 405.9,682.4 410.9,675.0 413.4,676.8 415.9,684.9 417.1,691.2 414.6,697.4 410.9,702.4 405.9,707.3 403.4,701.1Z" fill="#DEB887" />
<path d="M366.7,737.8 368.6,731.0 372.3,732.9 377.3,736.6 381.0,740.3 377.3,741.6 372.3,742.8 368.6,744.7 366.7,743.4Z" fill="#DEB887" />
<path d="M382.3,733.5 385.4,731.6 389.1,731.0 387.9,734.1 384.1,736.0Z" fill="#DEB887" />
<path d="M381.0,652.2 386.0,648.4 393.4,648.4 395.9,653.4 394.7,658.4 400.9,659.6 395.9,662.1 391.0,664.6 388.5,660.9 383.5,658.4Z" fill="#DEB887" />
<path d="M387.2,631.0 404.7,631.0 404.0,634.7 399.7,636.0 393.4,636.6 389.7,634.7Z" fill="#DEB887" />
<path d="M293.6,670.0 317.2,670.0 317.8,673.7 312.2,676.8 303.5,677.5 297.3,675.6 292.9,673.1Z" fill="#DEB887" />
<path d="M346.8,619.3 351.8,616.8 356.8,614.9 361.1,617.4 364.9,622.4 368.6,627.3 373.6,632.3 379.8,637.3 383.5,639.8 381.0,644.8 378.5,649.8 376.7,656.0 377.9,662.2 379.8,667.2 381.0,672.2 382.3,677.1 379.8,680.0 382.3,670.0 379.8,675.0 376.1,677.5 371.7,681.2 373.6,684.9 376.7,692.4 371.1,688.7 364.9,686.2 358.6,684.9 354.3,685.6 348.7,683.7 344.9,680.0 343.7,675.0 344.5,677.1 342.0,672.1 338.3,668.3 335.2,663.4 335.2,655.9 337.7,649.7 344.5,645.9 349.5,641.0 350.8,636.0 353.2,631.0 335.6,662.2 336.2,654.7 337.5,649.1 343.7,647.3 348.7,642.3 351.2,636.1 351.8,629.8 348.7,624.9Z" fill="#98BE32" />
<path d="M341.8,687.4 348.7,686.8 353.7,689.9 352.4,693.7 356.8,697.4 362.4,703.6 366.1,709.8 369.8,712.9 373.6,711.1 381.0,710.5 387.3,712.9 391.6,716.7 388.5,721.0 383.5,725.4 377.3,726.6 371.1,724.8 366.1,721.0 364.9,726.0 361.1,726.6 359.3,732.2 357.4,737.2 356.8,741.0 351.8,741.6 348.0,741.0 346.8,737.8 348.7,733.5 350.5,728.5 351.8,722.3 352.4,713.6 351.2,707.3 348.7,701.1 344.9,694.9Z" fill="#98BE32" />
<path d="M384.8,688.0 388.5,686.2 392.2,686.8 392.2,690.5 389.1,692.4 385.4,691.2Z" fill="#98BE32" />
<path d="M393.5,643.5 397.2,642.3 395.4,644.8Z" fill="#98BE32" />
<path d="M386.0,686.4 391.6,685.8 392.8,689.5 390.3,692.6 385.4,690.8Z" fill="#98BE32" />
<path d="M381.0,638.5 383.5,640.3 381.0,643.4Z" fill="#98BE32" />
<path d="M393.4,642.8 397.2,642.2 394.7,644.7Z" fill="#98BE32" />
<path d="M381.0,672.7 383.5,673.9 381.0,675.8Z" fill="#98BE32" />
<path d="M347.4,696.1 350.5,699.9 354.3,707.3 352.4,706.1 348.7,699.9Z" fill="#F5E6BE" />
<path d="M354.9,621.9 358.6,623.1 358.4,623.9 354.9,622.6Z" fill="#BEF064" />
<path d="M353.0,727.3 355.5,726.6 356.1,731.0 353.7,731.6Z" fill="#BEF064" />
<path d="M344.9,661.0 348.7,656.0 353.0,652.9 359.3,654.7 363.0,659.7 363.6,664.7 358.0,667.8 352.4,670.9 347.4,667.2Z" fill="#BEF064" />
<path d="M323.4,618.6 325.9,622.4 326.7,628.6 324.2,626.1Z" fill="#FFE100" />
<path d="M309.0,636.0 312.2,638.5 316.5,636.6 319.6,639.7 324.0,640.3 322.1,643.4 320.9,647.2 319.0,650.3 315.3,647.8 312.2,644.1 310.3,639.7Z" fill="#FFE100" />
<path d="M386.0,619.3 389.8,619.9 394.7,624.9 399.7,627.3 401.0,631.7 398.5,634.2 393.5,632.9 391.0,628.6 389.8,623.6Z" fill="#FFE100" />
<path d="M384.8,651.6 389.1,649.8 391.6,651.6 392.2,656.0 388.5,658.2 384.8,656.0Z" fill="#FFE100" />
<path d="M408.4,688.7 410.9,684.3 413.4,686.2 414.0,689.9 411.5,694.9 409.0,696.8Z" fill="#FFE100" />
<path d="M376.7,739.1 377.9,737.8 379.8,740.3 377.9,741.2Z" fill="#FFE100" />
<path d="M309.3,636.1 311.0,639.8 309.8,641.0Z" fill="#FFE100" />
<circle cx="335.9" cy="675.7" r="7.2" fill="#fff"/><g transform="translate(335.7,675.6)" fill="none" stroke="#000" stroke-width="1.10" stroke-linejoin="round"><path d="M-0.2,-67.1 2.3,-68.2 5.4,-69.5 9.8,-70.0 14.7,-69.2 19.7,-67.3 24.7,-65.1 29.7,-63.6 35.9,-62.3 40.9,-61.7 42.1,-63.0 43.1,-62.3 43.6,-59.2 45.2,-55.5 47.7,-57.3 52.1,-58.0 56.4,-56.1 59.6,-53.6 61.4,-50.5 63.3,-52.1 66.4,-52.6 68.9,-51.1 70.5,-48.0 70.1,-44.9 69.3,-43.0 70.8,-39.9 71.8,-34.9 73.2,-31.2 74.2,-27.5 71.4,-25.6 68.3,-24.4 65.8,-22.7 67.6,-21.5 70.1,-19.4 73.2,-17.5 77.0,-14.4 80.1,-10.7 80.7,-9.8 82.6,-6.0 83.8,-1.0 84.2,3.9 83.5,8.9 83.2,13.9 84.5,17.6 83.8,20.1 82.0,23.9 79.5,27.0 78.2,30.1 80.1,31.9 78.9,34.4 75.8,36.9 73.3,39.4 71.4,43.1 69.5,46.9 67.7,50.6 64.6,51.2 63.3,53.1 65.8,53.1 64.6,55.0 62.1,58.1 58.3,61.2 54.6,63.1 50.9,64.3 47.7,65.6 45.3,64.9 42.1,64.7 38.4,66.2 34.7,67.2 30.9,67.4 27.8,68.7 24.7,68.0 21.6,67.4 20.4,65.6 18.5,67.2 15.4,66.2 11.6,64.9 10.4,61.8 12.3,58.1 14.1,53.7 14.8,48.8 13.5,44.4 12.3,41.3 10.4,40.0 11.6,38.8 12.9,35.1 11.0,30.1 7.9,25.7 4.8,22.6 3.2,23.2 -0.5,20.7 -4.2,16.4 -6.7,14.5 -8.6,15.8 -10.4,21.4 -12.3,26.3 -14.8,27.0 -17.9,27.6 -15.4,32.6 -16.1,36.3 -15.4,38.8 -16.7,41.9 -18.5,41.3 -19.8,38.2 -22.3,36.9 -25.4,38.2 -27.3,40.7 -31.6,39.4 -36.0,38.2 -38.5,36.9 -38.5,32.6 -39.7,30.1 -43.4,31.3 -47.8,31.9 -49.7,30.1 -50.3,26.3 -48.4,25.1 -47.8,22.0 -49.0,19.5 -51.5,21.4 -52.8,18.3 -50.3,15.8 -51.5,13.3 -52.2,9.5 -54.0,10.2 -56.5,11.4 -59.0,12.7 -57.8,10.2 -57.1,7.0 -59.6,7.7 -60.9,10.8 -62.7,12.0 -63.4,8.9 -62.1,6.4 -60.5,2.7 -60.2,-2.3 -59.6,-7.3 -58.4,-11.0 -59.1,-11.3 -58.5,-13.8 -60.3,-15.0 -63.4,-15.6 -65.9,-16.3 -68.4,-17.5 -68.0,-19.0 -66.5,-18.1 -64.7,-16.5 -62.2,-16.3 -60.3,-17.5 -60.3,-19.4 -62.2,-20.6 -65.3,-20.6 -67.2,-21.5 -65.3,-21.9 -61.6,-22.2 -59.1,-21.2 -57.8,-19.4 -58.5,-16.3 -56.6,-15.6 -56.0,-18.8 -56.6,-21.9 -58.5,-23.5 -61.6,-23.7 -66.5,-23.1 -69.7,-23.1 -70.3,-24.4 -68.4,-25.6 -69.7,-27.5 -71.5,-28.7 -73.4,-30.0 -75.3,-29.3 -74.6,-31.2 -76.5,-33.1 -78.4,-36.2 -79.7,-38.1 -80.7,-38.9 -81.7,-40.5 -80.7,-42.2 -81.2,-43.9 -80.2,-45.5 -80.5,-48.4 -79.7,-50.1 -80.2,-52.1 -79.5,-54.4 -78.5,-53.9 -78.0,-52.1 -77.3,-50.4 -78.2,-48.4 -77.5,-46.1 -77.8,-43.7 -76.8,-42.2 -76.5,-39.7 -75.0,-38.4 -74.6,-36.4 -73.5,-35.4 -73.4,-33.7 -71.5,-31.8 -69.0,-31.8 -66.5,-33.7 -63.4,-33.7 -59.1,-32.5 -54.7,-30.6 -51.0,-28.7 -47.9,-26.2 -45.4,-23.1 -43.5,-20.0 -41.9,-17.5 -40.4,-21.2 -37.9,-23.7 -34.2,-25.6 -30.4,-26.9 -27.3,-28.7 -24.5,-31.2 -23.6,-36.2 -22.4,-41.8 -21.7,-46.8 -19.9,-51.7 -17.4,-56.1 -14.9,-59.2 -13.0,-63.0 -11.8,-65.4 -9.9,-65.1 -8.7,-67.1 -7.0,-66.1 -5.6,-67.9 -4.3,-66.7 -3.1,-68.6 -0.2,-67.6Z"/><path d="M-76.5,-73.8 -74.0,-74.2 -75.0,-72.8 -76.5,-73.3Z" fill="#000" stroke-width="0.5"/><path d="M-85.2,-53.0 -84.5,-53.0 -84.3,-48.0 -85.1,-48.0Z" fill="#000" stroke-width="0.5"/><path d="M-11.7,33.8 -10.2,32.8 -9.8,35.3 -11.1,37.8 -12.2,36.9Z" fill="none" stroke-width="0.9"/><path d="M8.2,43.1 10.5,42.8 10.5,44.0 8.5,44.0Z" fill="#000" stroke-width="0.5"/><path d="M-115.0,-48.8 L-116.2,-46.5 L-116.0,-45.0 L-117.6,-43.2"/></g></g><circle cx="335.7" cy="675.6" r="126.8" fill="none" stroke="#222" stroke-width="1"/>
<rect x="83.20" y="429.40" width="15.35" height="12.20" fill="#9370DB" stroke="#000" stroke-width="0.65"/><rect x="98.55" y="429.40" width="15.35" height="12.20" fill="#0000CD" stroke="#000" stroke-width="0.65"/><rect x="113.90" y="429.40" width="15.35" height="12.20" fill="#4169E1" stroke="#000" stroke-width="0.65"/><rect x="129.25" y="429.40" width="15.35" height="12.20" fill="#7B9BF2" stroke="#000" stroke-width="0.65"/><rect x="144.60" y="429.40" width="15.35" height="12.20" fill="#B0E0E6" stroke="#000" stroke-width="0.65"/><rect x="159.95" y="429.40" width="15.35" height="12.20" fill="#20B2AA" stroke="#000" stroke-width="0.65"/><rect x="175.30" y="429.40" width="15.35" height="12.20" fill="#BEF064" stroke="#000" stroke-width="0.65"/><rect x="190.65" y="429.40" width="15.35" height="12.20" fill="#98BE32" stroke="#000" stroke-width="0.65"/><rect x="206.00" y="429.40" width="15.35" height="12.20" fill="#F5E6BE" stroke="#000" stroke-width="0.65"/><rect x="221.35" y="429.40" width="15.35" height="12.20" fill="#DEB887" stroke="#000" stroke-width="0.65"/><rect x="236.70" y="429.40" width="15.35" height="12.20" fill="#FFE100" stroke="#000" stroke-width="0.65"/><rect x="252.05" y="429.40" width="15.35" height="12.20" fill="#FFA500" stroke="#000" stroke-width="0.65"/><rect x="267.40" y="429.40" width="15.35" height="12.20" fill="#FF4500" stroke="#000" stroke-width="0.65"/><rect x="282.75" y="429.40" width="15.35" height="12.20" fill="#B22222" stroke="#000" stroke-width="0.65"/><rect x="298.10" y="429.40" width="15.35" height="12.20" fill="#FFB6C1" stroke="#000" stroke-width="0.65"/><rect x="313.45" y="429.40" width="15.35" height="12.20" fill="#FF1493" stroke="#000" stroke-width="0.65"/><text class="thin" x="98.55" y="455.80" text-anchor="middle" font-size="10.6">0</text><text class="thin" x="129.25" y="455.80" text-anchor="middle" font-size="10.6">50</text><text class="thin" x="159.95" y="455.80" text-anchor="middle" font-size="10.6">100</text><text class="thin" x="190.65" y="455.80" text-anchor="middle" font-size="10.6">150</text><text class="thin" x="221.35" y="455.80" text-anchor="middle" font-size="10.6">200</text><text class="thin" x="252.05" y="455.80" text-anchor="middle" font-size="10.6">250</text><text class="thin" x="282.75" y="455.80" text-anchor="middle" font-size="10.6">300</text><text class="thin" x="313.45" y="455.80" text-anchor="middle" font-size="10.6">350</text>
<rect x="342.20" y="429.40" width="15.35" height="12.20" fill="#9370DB" stroke="#000" stroke-width="0.65"/><rect x="357.55" y="429.40" width="15.35" height="12.20" fill="#0000CD" stroke="#000" stroke-width="0.65"/><rect x="372.90" y="429.40" width="15.35" height="12.20" fill="#4169E1" stroke="#000" stroke-width="0.65"/><rect x="388.25" y="429.40" width="15.35" height="12.20" fill="#7B9BF2" stroke="#000" stroke-width="0.65"/><rect x="403.60" y="429.40" width="15.35" height="12.20" fill="#B0E0E6" stroke="#000" stroke-width="0.65"/><rect x="418.95" y="429.40" width="15.35" height="12.20" fill="#20B2AA" stroke="#000" stroke-width="0.65"/><rect x="434.30" y="429.40" width="15.35" height="12.20" fill="#BEF064" stroke="#000" stroke-width="0.65"/><rect x="449.65" y="429.40" width="15.35" height="12.20" fill="#98BE32" stroke="#000" stroke-width="0.65"/><rect x="465.00" y="429.40" width="15.35" height="12.20" fill="#F5E6BE" stroke="#000" stroke-width="0.65"/><rect x="480.35" y="429.40" width="15.35" height="12.20" fill="#DEB887" stroke="#000" stroke-width="0.65"/><rect x="495.70" y="429.40" width="15.35" height="12.20" fill="#FFE100" stroke="#000" stroke-width="0.65"/><rect x="511.05" y="429.40" width="15.35" height="12.20" fill="#FFA500" stroke="#000" stroke-width="0.65"/><rect x="526.40" y="429.40" width="15.35" height="12.20" fill="#FF4500" stroke="#000" stroke-width="0.65"/><rect x="541.75" y="429.40" width="15.35" height="12.20" fill="#B22222" stroke="#000" stroke-width="0.65"/><rect x="557.10" y="429.40" width="15.35" height="12.20" fill="#FFB6C1" stroke="#000" stroke-width="0.65"/><rect x="572.45" y="429.40" width="15.35" height="12.20" fill="#FF1493" stroke="#000" stroke-width="0.65"/><text class="thin" x="357.55" y="455.80" text-anchor="middle" font-size="10.6">0</text><text class="thin" x="388.25" y="455.80" text-anchor="middle" font-size="10.6">50</text><text class="thin" x="418.95" y="455.80" text-anchor="middle" font-size="10.6">100</text><text class="thin" x="449.65" y="455.80" text-anchor="middle" font-size="10.6">150</text><text class="thin" x="480.35" y="455.80" text-anchor="middle" font-size="10.6">200</text><text class="thin" x="511.05" y="455.80" text-anchor="middle" font-size="10.6">250</text><text class="thin" x="541.75" y="455.80" text-anchor="middle" font-size="10.6">300</text><text class="thin" x="572.45" y="455.80" text-anchor="middle" font-size="10.6">350</text>
<rect x="532.30" y="596.20" width="29.50" height="12.72" fill="#FF1493" stroke="#000" stroke-width="0.65"/><rect x="532.30" y="608.93" width="29.50" height="12.72" fill="#FFB6C1" stroke="#000" stroke-width="0.65"/><rect x="532.30" y="621.65" width="29.50" height="12.72" fill="#B22222" stroke="#000" stroke-width="0.65"/><rect x="532.30" y="634.38" width="29.50" height="12.72" fill="#FF4500" stroke="#000" stroke-width="0.65"/><rect x="532.30" y="647.10" width="29.50" height="12.72" fill="#FFA500" stroke="#000" stroke-width="0.65"/><rect x="532.30" y="659.83" width="29.50" height="12.72" fill="#FFE100" stroke="#000" stroke-width="0.65"/><rect x="532.30" y="672.55" width="29.50" height="12.72" fill="#DEB887" stroke="#000" stroke-width="0.65"/><rect x="532.30" y="685.28" width="29.50" height="12.72" fill="#F5E6BE" stroke="#000" stroke-width="0.65"/><rect x="532.30" y="698.00" width="29.50" height="12.72" fill="#98BE32" stroke="#000" stroke-width="0.65"/><rect x="532.30" y="710.73" width="29.50" height="12.72" fill="#BEF064" stroke="#000" stroke-width="0.65"/><rect x="532.30" y="723.45" width="29.50" height="12.72" fill="#20B2AA" stroke="#000" stroke-width="0.65"/><rect x="532.30" y="736.18" width="29.50" height="12.72" fill="#B0E0E6" stroke="#000" stroke-width="0.65"/><rect x="532.30" y="748.90" width="29.50" height="12.72" fill="#7B9BF2" stroke="#000" stroke-width="0.65"/><rect x="532.30" y="761.62" width="29.50" height="12.72" fill="#4169E1" stroke="#000" stroke-width="0.65"/><rect x="532.30" y="774.35" width="29.50" height="12.72" fill="#0000CD" stroke="#000" stroke-width="0.65"/><rect x="532.30" y="787.08" width="29.50" height="12.72" fill="#9370DB" stroke="#000" stroke-width="0.65"/><text class="thin" x="575.90" y="612.53" text-anchor="middle" font-size="10.2">80</text><text class="thin" x="575.90" y="625.25" text-anchor="middle" font-size="10.2">60</text><text class="thin" x="575.90" y="637.98" text-anchor="middle" font-size="10.2">40</text><text class="thin" x="575.90" y="650.70" text-anchor="middle" font-size="10.2">30</text><text class="thin" x="575.90" y="663.43" text-anchor="middle" font-size="10.2">20</text><text class="thin" x="575.90" y="676.15" text-anchor="middle" font-size="10.2">10</text><text class="thin" x="575.90" y="688.88" text-anchor="middle" font-size="10.2">5</text><text class="thin" x="575.90" y="701.60" text-anchor="middle" font-size="10.2">0</text><text class="thin" x="569.40" y="714.33" font-size="10.2" textLength="13.4" lengthAdjust="spacingAndGlyphs">-5</text><text class="thin" x="565.65" y="727.05" font-size="10.2" textLength="20.9" lengthAdjust="spacingAndGlyphs">-10</text><text class="thin" x="565.65" y="739.78" font-size="10.2" textLength="20.9" lengthAdjust="spacingAndGlyphs">-20</text><text class="thin" x="565.65" y="752.50" font-size="10.2" textLength="20.9" lengthAdjust="spacingAndGlyphs">-30</text><text class="thin" x="565.65" y="765.23" font-size="10.2" textLength="20.9" lengthAdjust="spacingAndGlyphs">-40</text><text class="thin" x="565.65" y="777.95" font-size="10.2" textLength="20.9" lengthAdjust="spacingAndGlyphs">-60</text><text class="thin" x="565.65" y="790.68" font-size="10.2" textLength="20.9" lengthAdjust="spacingAndGlyphs">-80</text>
<text x="336.3" y="61" text-anchor="middle" font-size="24" font-weight="bold">ANN</text>
<text x="206" y="83.3" text-anchor="middle" font-size="14" font-weight="bold">CAM_fv_3.0_2000</text>
<text x="465.5" y="84.7" text-anchor="middle" font-size="14.3" font-weight="bold">ISCCP FD</text>
<text x="336" y="493.4" text-anchor="middle" font-size="14.1" font-weight="bold">CAM_fv_3.0_2000 - ISCCP FD</text>
<text x="79.0" y="120.8" font-size="12.3">Surf downwelling SW</text>
<text x="338.0" y="120.8" font-size="12.3">Surf downwelling SW</text>
<text x="208.3" y="531.0" font-size="12.3">Surf downwelling SW</text>
<text x="304" y="124" font-size="12.2">W/m<tspan dy="-6.2" font-size="8.8">2</tspan></text>
<text x="563" y="124" font-size="12.2">W/m<tspan dy="-6.2" font-size="8.8">2</tspan></text>
<text x="433.5" y="533.2" font-size="12.2">W/m<tspan dy="-6.4" font-size="8.8">2</tspan></text>
<text class="thin" x="82.0" y="420.9" font-size="10.6" textLength="36.0" lengthAdjust="spacingAndGlyphs">MEAN=</text><text class="thin" x="126.2" y="420.9" font-size="10.6" textLength="36.8" lengthAdjust="spacingAndGlyphs">103.06</text><text class="thin" x="175.5" y="420.9" font-size="10.6" textLength="25.8" lengthAdjust="spacingAndGlyphs">Min=</text><text class="thin" x="213.9" y="420.9" font-size="10.6" textLength="29.7" lengthAdjust="spacingAndGlyphs">71.67</text><text class="thin" x="256.7" y="420.9" font-size="10.6" textLength="28.1" lengthAdjust="spacingAndGlyphs">Max=</text><text class="thin" x="293.3" y="420.9" font-size="10.6" textLength="35.5" lengthAdjust="spacingAndGlyphs">150.34</text><text class="thin" x="342.0" y="420.9" font-size="10.6" textLength="36.0" lengthAdjust="spacingAndGlyphs">MEAN=</text><text class="thin" x="386.2" y="420.9" font-size="10.6" textLength="36.8" lengthAdjust="spacingAndGlyphs">113.54</text><text class="thin" x="435.5" y="420.9" font-size="10.6" textLength="25.8" lengthAdjust="spacingAndGlyphs">Min=</text><text class="thin" x="473.9" y="420.9" font-size="10.6" textLength="29.7" lengthAdjust="spacingAndGlyphs">86.88</text><text class="thin" x="516.7" y="420.9" font-size="10.6" textLength="28.1" lengthAdjust="spacingAndGlyphs">Max=</text><text class="thin" x="553.3" y="420.9" font-size="10.6" textLength="35.5" lengthAdjust="spacingAndGlyphs">149.06</text><text class="thin" x="476.7" y="574.2" font-size="11.0" textLength="18.1" lengthAdjust="spacingAndGlyphs">MIN</text><text class="thin" x="501.7" y="574.2" font-size="11.0" textLength="7.8" lengthAdjust="spacingAndGlyphs">=</text><text class="thin" x="516.5" y="574.2" font-size="11.0" textLength="39.5" lengthAdjust="spacingAndGlyphs">-32.78</text><text class="thin" x="562.4" y="574.2" font-size="11.0" textLength="20.0" lengthAdjust="spacingAndGlyphs">MAX</text><text class="thin" x="590.2" y="574.2" font-size="11.0" textLength="6.9" lengthAdjust="spacingAndGlyphs">=</text><text class="thin" x="610.2" y="574.2" font-size="11.0" textLength="30.6" lengthAdjust="spacingAndGlyphs">15.62</text>
</svg></body></html>
